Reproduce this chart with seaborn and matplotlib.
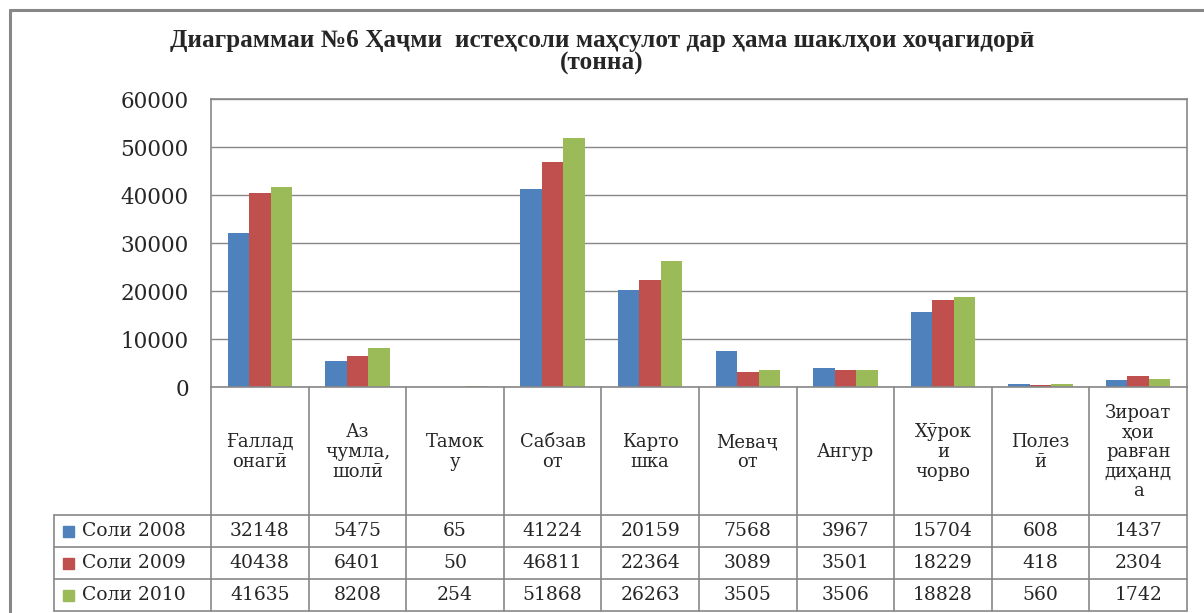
import numpy as np
import pandas as pd
import seaborn as sns
import matplotlib.pyplot as plt
from matplotlib.lines import Line2D
from matplotlib.patches import Rectangle

# Categories (labels wrapped as in the data table of the original chart)
categories = ["Ғаллад\nонагӣ", "Аз\nҷумла,\nшолӣ", "Тамок\nу", "Сабзав\nот",
              "Карто\nшка", "Меваҷ\nот", "Ангур", "Хӯрок\nи\nчорво",
              "Полез\nӣ", "Зироат\nҳои\nравған\nдиҳанд\nа"]
series_names = ["Соли 2008", "Соли 2009", "Соли 2010"]
values_2008 = [32148, 5475, 65, 41224, 20159, 7568, 3967, 15704, 608, 1437]
values_2009 = [40438, 6401, 50, 46811, 22364, 3089, 3501, 18229, 418, 2304]
values_2010 = [41635, 8208, 254, 51868, 26263, 3505, 3506, 18828, 560, 1742]
colors = ["#4F81BD", "#C0504D", "#9BBB59"]
y_ticks = [0, 10000, 20000, 30000, 40000, 50000, 60000]

title = "Диаграммаи №6 Ҳаҷми  истеҳсоли маҳсулот дар ҳама шаклҳои хоҷагидорӣ\n(тонна)"

sns.set_style("white")
plt.rcParams['font.family'] = ['DejaVu Serif']

# long-form table for seaborn
all_values = [values_2008, values_2009, values_2010]
rows = []
for name, vals in zip(series_names, all_values):
    for cat, v in zip(categories, vals):
        rows.append({"cat": cat, "year": name, "value": v})
df = pd.DataFrame(rows)

W, H = 1204, 613
fig = plt.figure(figsize=(W / 100, H / 100), dpi=100)
fig.patch.set_facecolor("white")

# plot area in pixels: left 211, right 1187, top 99, bottom 387
px_l, px_r, px_t, px_b = 211, 1187, 99, 387
ax = fig.add_axes([px_l / W, 1 - px_b / H, (px_r - px_l) / W, (px_b - px_t) / H])

sns.barplot(data=df, x="cat", y="value", hue="year", order=categories,
            hue_order=series_names, palette=colors, width=0.66, gap=0,
            saturation=1, linewidth=0, legend=False, ax=ax)

gray = "#878787"
ax.set_xlim(-0.5, len(categories) - 0.5)
ax.set_ylim(0, 60000)
ax.set_yticks(y_ticks)
ax.set_yticklabels([str(t) for t in y_ticks], fontsize=15.5)
ax.tick_params(axis="y", length=0, pad=16)
ax.set_xticks([])
ax.set_xlabel("")
ax.set_ylabel("")
ax.grid(axis="y", color=gray, linewidth=1)
ax.set_axisbelow(True)
for s in ax.spines.values():
    s.set_color(gray)
    s.set_linewidth(1.2)

# title
fig.text(0.5, 1 - 52 / H, title, ha="center", va="center", fontsize=18.2,
         fontweight="bold", family=["Liberation Serif", "DejaVu Serif"],
         linespacing=1.0)

# ---- data table below the plot ----
ph = px_b - px_t
pw = px_r - px_l


def fy(y):
    return (px_b - y) / ph


def fx(x):
    return (x - px_l) / pw


n = len(categories)
row_lines = [515, 547, 579, 611]
tbl_kw = dict(color=gray, linewidth=1.2, transform=ax.transAxes, clip_on=False)
for i in range(n + 1):
    ax.add_line(Line2D([i / n, i / n], [0, fy(row_lines[-1])], **tbl_kw))
ax.add_line(Line2D([fx(54), fx(54)], [fy(row_lines[0]), fy(row_lines[-1])], **tbl_kw))
for y in row_lines:
    ax.add_line(Line2D([fx(54), 1], [fy(y), fy(y)], **tbl_kw))

# header labels
for i, cat in enumerate(categories):
    ax.text((i + 0.5) / n, fy(452), cat, transform=ax.transAxes, ha="center",
            va="center", fontsize=13, linespacing=1.12, clip_on=False)

# rows with legend keys and values
for r, (name, vals, c) in enumerate(zip(series_names, all_values, colors)):
    yc = fy((row_lines[r] + row_lines[r + 1]) / 2)
    ax.add_patch(Rectangle((fx(63), yc - 5.5 / ph), 11 / pw, 11 / ph,
                           transform=ax.transAxes, color=c, clip_on=False))
    ax.text(fx(82), yc, name, transform=ax.transAxes, ha="left", va="center",
            fontsize=13.5, clip_on=False)
    for i, v in enumerate(vals):
        ax.text((i + 0.5) / n, yc, str(v), transform=ax.transAxes,
                ha="center", va="center", fontsize=13.5, clip_on=False)

# outer chart frame (cropped at right and bottom in the original)
frame_kw = dict(color=gray, linewidth=2.2, transform=None)
fig.add_artist(Line2D([10, 10], [H - 10, 0], **frame_kw))
fig.add_artist(Line2D([10, W], [H - 10, H - 10], **frame_kw))

fig.savefig("out.png", dpi=100)
